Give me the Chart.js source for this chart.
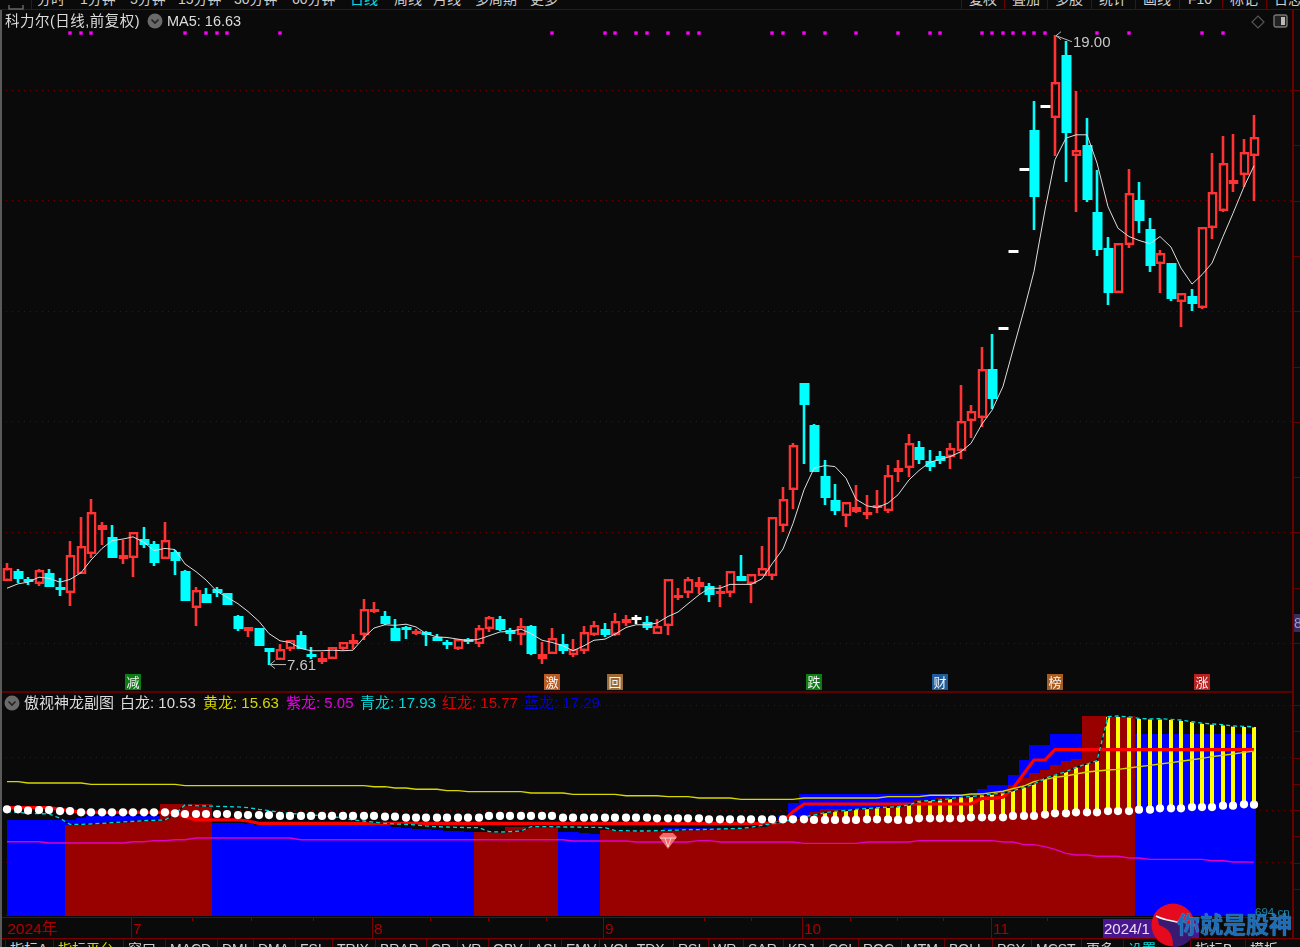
<!DOCTYPE html>
<html>
<head>
<meta charset="utf-8">
<script src="https://cdn.jsdelivr.net/npm/chart.js@4/dist/chart.umd.min.js"></script>
<style>
    html, body { margin: 0; padding: 0; width: 1300px; height: 947px; background: #0a0a0a; overflow: hidden; }
    body { position: relative; font-family: "Liberation Sans", "Noto Sans CJK SC", sans-serif; color: #ddd; }
    canvas { position: absolute; left: 0; }
    .t { position: absolute; white-space: nowrap; font-size: 15px; line-height: 18px; }
    .ln { position: absolute; background: #6a0000; }
</style>
</head>
<body>
<canvas id="mainChart" width="1300" height="681" style="top:10px"></canvas>
<canvas id="subChart" width="1300" height="226" style="top:692px"></canvas>
<div id="chrome"></div>
<script>
// 日线 K 线
const opens = [
    9.13,9.31,9.14,9.07,9.26,9.00,8.90,9.24,9.61,10.04,
    9.92,9.52,9.53,9.88,9.79,9.52,9.65,9.31,8.63,8.89,
    8.97,8.91,8.48,8.21,8.28,7.91,7.70,7.89,8.14,7.80,
    7.66,7.71,7.90,7.99,8.14,8.56,8.48,8.27,8.25,8.17,
    8.16,8.11,7.99,7.90,8.07,7.99,8.25,8.44,8.24,8.14,
    8.30,7.71,7.80,7.99,7.79,7.85,8.14,8.25,8.14,8.36,
    8.42,8.38,8.16,8.30,8.81,8.91,9.02,9.03,8.89,8.90,
    9.22,9.07,9.22,9.22,10.12,10.76,12.71,11.94,11.02,10.58,
    10.29,10.37,10.31,10.44,10.39,11.09,11.16,11.55,11.30,11.38,
    11.36,11.47,12.01,12.07,12.95,13.66,15.05,16.54,17.28,17.67,
    17.50,18.63,16.81,17.00,15.80,15.15,14.33,15.19,16.01,15.48,
    14.86,14.88,14.16,14.27,14.06,15.51,15.82,16.30,16.47,16.80
];
const closes = [
    9.35,9.16,9.10,9.32,9.02,8.96,9.60,9.75,10.37,10.14,
    9.54,9.60,10.00,9.77,9.44,9.87,9.48,8.76,8.95,8.72,
    8.90,8.69,8.25,8.29,7.95,7.84,7.90,8.06,7.90,7.75,
    7.73,7.92,8.01,8.06,8.62,8.58,8.34,8.04,8.24,8.22,
    8.14,8.04,7.96,8.08,8.02,8.27,8.47,8.24,8.17,8.31,
    7.80,7.81,8.09,7.85,7.90,8.20,8.32,8.14,8.40,8.44,
    8.42,8.28,8.31,9.15,8.87,9.15,9.10,8.87,8.93,9.31,
    9.13,9.24,9.35,10.28,10.60,11.58,12.31,11.09,10.62,10.39,
    10.55,10.46,10.37,10.48,11.03,11.17,11.62,11.31,11.18,11.30,
    11.53,12.02,12.20,12.95,12.42,13.66,15.05,16.54,16.07,17.67,
    18.15,17.22,16.91,16.01,15.10,14.33,15.23,16.13,15.64,14.81,
    15.05,14.22,14.33,14.13,15.53,16.16,16.68,16.38,16.88,17.15
];
const highs = [
    9.44,9.33,9.20,9.34,9.34,9.18,9.84,10.27,10.60,10.19,
    10.13,9.86,10.00,10.10,9.85,10.19,9.69,9.32,9.02,9.00,
    9.02,8.91,8.51,8.29,8.28,7.91,7.98,8.06,8.21,7.93,
    7.84,7.92,8.02,8.17,8.79,8.75,8.57,8.43,8.30,8.25,
    8.22,8.17,8.05,8.08,8.09,8.32,8.49,8.49,8.27,8.45,
    8.32,8.01,8.27,8.16,8.07,8.30,8.39,8.37,8.55,8.50,
    8.50,8.48,8.43,9.15,8.99,9.20,9.20,9.09,9.04,9.31,
    9.59,9.24,9.75,10.28,10.83,11.62,12.71,11.96,11.31,10.88,
    10.55,10.85,10.67,10.77,11.21,11.31,11.78,11.65,11.49,11.47,
    11.62,12.66,12.30,13.36,13.59,13.66,15.05,16.54,17.80,17.67,
    19.00,18.88,17.98,17.49,16.56,15.35,15.23,16.58,16.33,15.68,
    15.11,14.88,14.33,14.41,15.53,16.87,17.16,17.21,17.12,17.55
];
const lows = [
    9.13,9.09,9.05,9.03,9.01,8.85,8.67,9.24,9.53,9.77,
    9.53,9.42,9.19,9.72,9.39,9.52,9.23,8.76,8.31,8.72,
    8.83,8.69,8.21,8.10,7.95,7.61,7.70,7.86,7.90,7.71,
    7.62,7.71,7.87,7.89,8.05,8.54,8.32,8.04,8.08,8.15,
    7.95,8.03,7.90,7.88,7.99,7.93,8.19,8.22,8.03,7.97,
    7.78,7.62,7.80,7.81,7.74,7.81,8.13,8.11,8.13,8.31,
    8.34,8.24,8.16,8.15,8.77,8.81,8.89,8.75,8.65,8.83,
    9.12,8.73,9.22,9.14,10.01,10.42,11.23,11.09,10.50,10.32,
    10.09,10.35,10.25,10.35,10.35,10.92,11.00,11.23,11.11,11.23,
    11.14,11.32,11.70,11.90,12.24,13.66,15.05,16.54,15.46,17.67,
    16.80,16.34,15.80,15.98,14.99,14.12,14.33,15.15,15.41,14.71,
    14.33,14.19,13.72,14.01,14.04,15.30,15.80,16.16,16.25,16.00
];
const ma5 = [
    8.99,9.07,9.10,9.19,9.17,9.10,9.15,9.27,9.50,9.71,
    9.85,9.88,9.92,9.82,9.67,9.71,9.69,9.43,9.29,9.14,
    8.93,8.83,8.71,8.57,8.39,8.17,8.04,8.01,7.90,7.86,
    7.86,7.87,7.86,7.87,8.10,8.27,8.33,8.32,8.34,8.29,
    8.17,8.11,8.10,8.07,8.04,8.07,8.13,8.20,8.21,8.25,
    8.17,8.05,8.01,7.95,7.86,7.95,8.05,8.07,8.16,8.28,
    8.33,8.33,8.36,8.48,8.56,8.71,8.87,8.99,8.99,9.06,
    9.06,9.06,9.16,9.43,9.70,10.16,10.77,11.16,11.21,11.19,
    10.98,10.60,10.48,10.45,10.53,10.68,10.95,11.12,11.27,11.32,
    11.37,11.46,11.61,11.96,12.21,12.64,13.30,14.02,14.72,15.83,
    16.74,17.13,17.19,17.19,16.68,15.89,15.50,15.35,15.28,15.22,
    15.35,15.16,14.78,14.49,14.66,14.87,15.35,15.77,16.25,16.63
];
const signalDays = [6,7,8,17,19,20,21,26,52,57,58,60,61,63,65,66,73,74,76,78,81,85,88,89,93,94,95,96,97,98,99,104,107,114,116];
const signalLevel = 19.03;
const priceTicks = [8,9,10,11,12,13,14,15,16,17,18];
const tagDays = [12,52,58,77,89,100,114];
const tagTexts = ['减','激','回','跌','财','榜','涨'];
const tagColors = ['#0b7d12','#b95a22','#9c6a34','#0b7d12','#1f5c9c','#a85c20','#b92020'];

// 傲视神龙副图
const baiLong = [
    10.08,10.08,9.96,10.02,10.02,9.92,9.92,9.80,9.80,9.80,
    9.80,9.80,9.80,9.80,9.80,9.80,9.70,9.64,9.64,9.64,
    9.64,9.64,9.54,9.54,9.54,9.54,9.45,9.45,9.45,9.45,
    9.45,9.45,9.45,9.45,9.45,9.45,9.38,9.38,9.29,9.29,
    9.29,9.29,9.29,9.29,9.29,9.29,9.45,9.45,9.45,9.45,
    9.45,9.45,9.45,9.29,9.29,9.29,9.29,9.29,9.29,9.29,
    9.29,9.29,9.23,9.23,9.23,9.23,9.23,9.13,9.13,9.13,
    9.13,9.13,9.13,9.13,9.13,9.13,9.13,9.07,9.07,9.07,
    9.07,9.07,9.13,9.13,9.13,9.07,9.07,9.23,9.23,9.23,
    9.23,9.23,9.32,9.32,9.32,9.32,9.45,9.45,9.45,9.58,
    9.70,9.70,9.80,9.80,9.80,9.92,9.92,9.92,10.05,10.05,
    10.18,10.18,10.18,10.30,10.30,10.30,10.43,10.43,10.56,10.53
];
const huangLong = [
    12.72,12.72,12.59,12.59,12.59,12.59,12.59,12.59,12.46,12.46,
    12.46,12.46,12.46,12.46,12.46,12.46,12.46,12.34,12.34,12.34,
    12.34,12.34,12.34,12.34,12.34,12.34,12.34,12.34,12.34,12.34,
    12.34,12.34,12.34,12.34,12.34,12.24,12.24,12.11,12.11,11.99,
    11.99,11.99,11.86,11.86,11.77,11.77,11.77,11.77,11.77,11.77,
    11.64,11.64,11.64,11.64,11.51,11.51,11.51,11.51,11.51,11.38,
    11.38,11.38,11.38,11.29,11.29,11.29,11.16,11.16,11.16,11.16,
    11.03,11.03,11.03,11.03,11.03,11.03,11.16,11.16,11.16,11.16,
    11.16,11.16,11.16,11.16,11.29,11.29,11.29,11.29,11.42,11.42,
    11.42,11.42,11.54,11.54,11.67,11.80,12.05,12.30,12.72,12.94,
    13.13,13.26,13.45,13.64,13.73,13.83,13.89,14.02,14.15,14.27,
    14.40,14.53,14.66,14.81,14.94,15.10,15.23,15.35,15.51,15.63
];
const ziLong = [
    7.00,7.00,7.00,7.00,6.88,6.88,6.88,6.88,6.88,6.88,
    6.88,6.88,7.00,7.00,7.10,7.10,7.19,7.19,7.35,7.35,
    7.35,7.35,7.35,7.35,7.35,7.35,7.35,7.35,7.19,7.19,
    7.19,7.19,7.19,7.19,7.19,7.19,7.19,7.19,7.19,7.19,
    7.19,7.19,7.19,7.19,7.19,7.19,7.19,7.19,7.19,7.19,
    7.19,7.19,7.19,7.19,7.07,7.07,7.07,7.07,7.07,7.07,
    6.97,6.97,6.97,6.97,6.97,6.97,7.10,7.10,6.97,6.97,
    6.97,6.97,6.97,6.97,6.97,6.97,6.84,6.84,6.84,6.84,
    6.84,6.84,6.97,6.97,6.97,6.97,6.97,7.10,7.10,7.10,
    7.10,7.10,7.10,7.10,7.10,6.97,6.97,6.72,6.72,6.53,
    6.27,5.89,5.73,5.73,5.61,5.61,5.61,5.45,5.45,5.32,
    5.32,5.32,5.32,5.32,5.32,5.19,5.19,5.07,5.07,5.05
];
const qingLong = [
    9.86,9.80,9.70,9.67,9.64,9.23,8.65,8.65,8.69,8.75,
    8.81,8.88,8.94,9.00,9.04,9.07,9.64,10.50,10.43,10.40,
    10.37,10.34,10.31,10.24,10.08,9.96,9.80,9.70,9.61,9.54,
    9.48,9.38,9.26,9.07,8.97,8.85,8.75,8.69,8.65,8.59,
    8.50,8.43,8.40,8.37,8.34,8.34,7.96,7.92,7.96,8.02,
    8.43,8.43,8.43,8.40,8.40,8.37,8.37,8.34,8.05,8.05,
    8.02,8.02,8.05,8.08,8.11,8.15,8.15,8.18,8.21,8.24,
    8.27,8.37,8.56,8.72,8.91,9.13,9.38,9.54,9.77,9.89,
    9.96,10.08,10.15,10.24,10.27,10.34,10.50,10.85,10.91,10.97,
    11.10,11.23,11.29,11.42,11.54,11.61,11.86,12.18,12.50,13.03,
    13.35,13.67,14.08,14.40,14.72,18.91,18.97,18.88,18.75,18.69,
    18.72,18.65,18.59,18.43,18.30,18.21,18.15,18.02,17.99,17.93
];
const hongLong = [
    10.24,10.24,10.24,10.24,10.24,10.08,9.96,9.80,9.80,9.80,
    9.80,9.80,9.80,9.80,9.80,9.80,9.80,9.38,9.07,9.07,
    9.07,9.07,9.07,8.97,8.75,8.75,8.75,8.75,8.75,8.75,
    8.75,8.75,8.75,8.75,8.75,8.75,8.75,8.75,8.75,8.75,
    8.75,8.75,8.75,8.75,8.75,8.75,8.75,8.75,8.75,8.75,
    8.75,8.75,8.75,8.75,8.75,8.75,8.75,8.75,8.75,8.75,
    8.75,8.75,8.75,8.75,8.75,8.75,8.75,8.75,8.75,8.75,
    8.75,8.75,8.75,8.75,8.91,9.86,10.59,10.59,10.59,10.59,
    10.59,10.59,10.59,10.59,10.59,10.59,10.59,10.59,10.59,10.59,
    10.59,10.59,10.59,11.13,11.13,11.23,12.08,13.51,14.78,14.78,
    15.77,15.77,15.77,15.77,15.77,15.77,15.77,15.77,15.77,15.77,
    15.77,15.77,15.77,15.77,15.77,15.77,15.77,15.77,15.77,15.77
];
const lanLong = [
    9.07,9.07,9.07,9.07,9.07,9.07,9.07,9.23,9.48,9.48,
    9.48,9.48,9.48,9.48,9.48,9.48,9.48,9.48,9.48,9.48,
    8.81,8.81,8.75,8.65,8.59,8.59,8.59,8.59,8.59,8.59,
    8.59,8.59,8.59,8.59,8.59,8.59,8.59,8.43,8.27,8.24,
    8.18,8.11,8.05,7.99,7.96,7.96,7.96,7.96,7.96,7.96,
    7.96,7.96,7.96,7.96,7.96,7.80,7.73,8.11,8.11,8.11,
    8.11,8.11,8.11,8.27,8.27,8.27,8.27,8.27,8.27,8.27,
    8.27,8.27,8.27,8.91,9.54,10.65,11.51,11.51,11.51,11.51,
    11.51,11.51,11.51,11.51,11.51,11.51,11.51,11.51,11.51,11.51,
    11.51,11.51,11.51,12.02,12.40,12.40,13.35,14.78,16.21,16.21,
    17.29,17.29,17.29,17.29,17.29,17.29,17.29,17.29,17.29,17.29,
    17.29,17.29,17.29,17.29,17.29,17.29,17.29,17.29,17.29,17.29
];
const darkRedTops = [
    null,null,null,null,null,null,8.59,8.65,8.65,8.75,
    8.85,8.91,8.97,9.00,9.04,10.59,10.59,10.59,10.59,10.59,
    null,null,null,null,null,null,null,null,null,null,
    null,null,null,null,null,null,null,null,null,null,
    null,null,null,null,null,7.96,7.96,7.96,8.43,8.43,
    8.43,8.43,8.43,null,null,null,null,8.11,8.11,8.11,
    8.11,8.11,8.08,8.11,8.15,8.18,8.18,8.18,8.21,8.24,
    8.27,8.30,8.43,8.75,9.07,9.38,9.54,9.86,10.08,10.08,
    10.08,10.08,10.08,10.34,10.40,10.40,10.65,10.97,10.97,11.13,
    11.23,11.29,11.45,11.61,11.67,11.77,12.40,13.03,13.51,13.83,
    14.30,14.72,14.85,18.97,18.97,18.97,18.97,18.97,null,null,
    null,null,null,null,null,null,null,null,null,null
];
const stickFirstDay = 78;
const gemDay = 63;
const gemLevel = 7.16;
const subTicks = [2.5,5,7.5,10,12.5,15,17.5,20];

// 时间轴
const monthMarks = [11.8,34.8,56.8,75.8,93.9];
const monthLabels = ['7','8','9','10','11'];
const minorMarks = [17.6,23.3,29.2,40.3,45.9,51.4,66.5,71,80.4,84.9,89.3,99.2];

const RED = '#ff3333';
const CYAN = '#00ffff';
const BG = '#0a0a0a';
const FRAME = '#6a0000';
const days = closes.map((_, i) => i);
const candleColor = (i) => closes[i] > opens[i] ? RED : (closes[i] < opens[i] ? CYAN : '#ffffff');

// x 轴两张图共用，bar 图默认 offset 要关掉
const xAxis = { type: 'linear', display: false, offset: false, min: -0.6966, max: 122.586 };
const yAxis = (min, max, stepSize) => ({
    type: 'linear', position: 'right', min, max,
    afterFit: (s) => { s.width = 0; },
    ticks: { display: false, stepSize, includeBounds: false },
    grid: { color: '#6a0000', lineWidth: 1, drawTicks: false },
    border: { display: false, dash: [1, 5] }
});

// 像素对齐，和原图的硬边一致
const snapPlugin = {
    id: 'snap',
    beforeDatasetsUpdate(chart) {
        const xs = chart.scales.x;
        if (!xs.snapped) {
            const orig = xs.getPixelForValue.bind(xs);
            xs.getPixelForValue = (v, i) => Math.round(orig(v, i));
            xs.snapped = true;
        }
    },
    afterDatasetUpdate(chart, args) {
        if (args.meta.type !== 'bar') return;
        args.meta.data.forEach((el) => {
            el.y = Math.round(el.y);
            el.base = Math.round(el.base);
            if (args.meta.label === 'body' || args.meta.label === 'column') el.x += 0.5;
        });
    }
};

const drawTicks = (chart, levels) => {
    const { ctx, scales: { y } } = chart;
    ctx.save();
    ctx.fillStyle = FRAME;
    levels.forEach((v) => ctx.fillRect(1293, Math.round(y.getPixelForValue(v)), 7, 1));
    ctx.restore();
};

const mainPlugin = {
    id: 'mainDecor',
    afterDatasetsDraw(chart) {
        const { ctx, scales: { x, y } } = chart;
        drawTicks(chart, priceTicks);
        // 最高最低价标注
        ctx.save();
        ctx.strokeStyle = '#bbbbbb';
        ctx.fillStyle = '#c8c8c8';
        ctx.lineWidth = 1;
        ctx.font = '15px "Liberation Sans"';
        ctx.textBaseline = 'middle';
        const hiDay = highs.indexOf(Math.max(...highs));
        const loDay = lows.indexOf(Math.min(...lows));
        const marks = [
            { px: x.getPixelForValue(hiDay) + 1, py: y.getPixelForValue(highs[hiDay]) + 1, dy: 6, text: highs[hiDay].toFixed(2) },
            { px: x.getPixelForValue(loDay) + 1, py: y.getPixelForValue(lows[loDay]), dy: 0, text: lows[loDay].toFixed(2) }
        ];
        marks.forEach((m) => {
            ctx.beginPath();
            ctx.moveTo(m.px + 16, m.py + m.dy);
            ctx.lineTo(m.px, m.py);
            ctx.moveTo(m.px + 5, m.py - 4);
            ctx.lineTo(m.px, m.py);
            ctx.lineTo(m.px + 5, m.py + 4);
            ctx.stroke();
            ctx.fillText(m.text, m.px + 17, m.py + m.dy + 1);
        });
        // 底部信号小标
        ctx.font = '13px "Noto Sans CJK SC"';
        ctx.textAlign = 'center';
        tagDays.forEach((day, i) => {
            const cx = x.getPixelForValue(day);
            ctx.fillStyle = tagColors[i];
            ctx.fillRect(cx - 8, 664, 16, 16);
            ctx.fillStyle = '#f4f4f4';
            ctx.fillText(tagTexts[i], cx, 672);
        });
        ctx.restore();
    }
};

const subPlugin = {
    id: 'subDecor',
    afterDatasetsDraw(chart) {
        const { ctx, scales: { x, y } } = chart;
        drawTicks(chart, subTicks);
        // 红宝石图标
        const cx = x.getPixelForValue(gemDay);
        const cy = y.getPixelForValue(gemLevel);
        ctx.save();
        ctx.fillStyle = '#f06a6a';
        ctx.beginPath();
        ctx.moveTo(cx - 9, cy - 3);
        ctx.lineTo(cx - 5, cy - 7);
        ctx.lineTo(cx + 5, cy - 7);
        ctx.lineTo(cx + 9, cy - 3);
        ctx.lineTo(cx, cy + 9);
        ctx.closePath();
        ctx.fill();
        ctx.strokeStyle = '#ffd0d0';
        ctx.beginPath();
        ctx.moveTo(cx - 8, cy - 2);
        ctx.lineTo(cx + 8, cy - 2);
        ctx.moveTo(cx - 3, cy - 2);
        ctx.lineTo(cx, cy + 7);
        ctx.lineTo(cx + 3, cy - 2);
        ctx.stroke();
        ctx.restore();
    }
};

const baseOptions = (y) => ({
    responsive: false,
    animation: false,
    events: [],
    devicePixelRatio: 1,
    layout: { autoPadding: false, padding: { left: 0, top: 0, bottom: 0, right: 8 } },
    plugins: { legend: { display: false }, tooltip: { enabled: false } },
    scales: { x: xAxis, y }
});

new Chart(document.getElementById('mainChart'), {
    type: 'bar',
    plugins: [snapPlugin, mainPlugin],
    data: {
        datasets: [
            { type: 'line', label: 'MA5', order: 1, data: days.map((i) => ({ x: i, y: ma5[i] })), borderColor: '#dddddd', borderWidth: 1, pointRadius: 0, tension: 0 },
            { type: 'line', label: 'signal', order: 2, data: signalDays.map((i) => ({ x: i, y: signalLevel })), showLine: false, pointStyle: 'rect', pointRadius: 2.4, pointBorderWidth: 0, pointBackgroundColor: '#ff00ff' },
            { label: 'body', order: 3, grouped: false, barThickness: 10, minBarLength: 3, clip: false, borderSkipped: false, borderWidth: days.map((i) => closes[i] > opens[i] ? 2.6 : 0), inflateAmount: 0,
              data: days.map((i) => ({ x: i, y: [Math.min(opens[i], closes[i]), Math.max(opens[i], closes[i])] })),
              borderColor: days.map(candleColor),
              backgroundColor: days.map((i) => closes[i] > opens[i] ? BG : candleColor(i)) },
            { label: 'wick', order: 4, grouped: false, barThickness: 2.6, clip: false, borderWidth: 0, inflateAmount: 0,
              data: days.map((i) => ({ x: i, y: [lows[i], highs[i]] })),
              backgroundColor: days.map(candleColor) }
        ]
    },
    options: baseOptions(yAxis(7.132, 19.447, 2))
});

const clipBars = { left: -7, right: -36, top: 0, bottom: 0 };
const columnFloor = -0.12;

new Chart(document.getElementById('subChart'), {
    type: 'bar',
    plugins: [snapPlugin, subPlugin],
    data: {
        datasets: [
            { type: 'line', label: '白龙', order: 1, data: days.map((i) => ({ x: i, y: baiLong[i] })), showLine: false, pointRadius: 4.1, pointBorderWidth: 0, pointBackgroundColor: '#ffffff' },
            { type: 'line', label: '青龙', order: 2, data: days.map((i) => ({ x: i, y: qingLong[i] })), borderColor: '#00dcdc', borderWidth: 1.3, borderDash: [4, 3], pointRadius: 0, tension: 0 },
            { type: 'line', label: '青龙底', order: 3, data: days.map((i) => ({ x: i, y: qingLong[i] })), borderColor: '#0a0a0a', borderWidth: 1.3, pointRadius: 0, tension: 0 },
            { type: 'line', label: '黄龙', order: 4, data: days.map((i) => ({ x: i, y: huangLong[i] })), borderColor: '#d6d600', borderWidth: 1.4, pointRadius: 0, tension: 0 },
            { type: 'line', label: '红龙', order: 5, data: days.map((i) => ({ x: i, y: hongLong[i] })), borderColor: '#ff0000', borderWidth: 3.2, pointRadius: 0, tension: 0 },
            { type: 'line', label: '紫龙', order: 6, data: days.map((i) => ({ x: i, y: ziLong[i] })), borderColor: '#e000c8', borderWidth: 1.4, pointRadius: 0, tension: 0 },
            { label: 'stick', order: 7, grouped: false, barThickness: 4, borderWidth: 0, inflateAmount: 0,
              data: days.filter((i) => i >= stickFirstDay).map((i) => ({ x: i, y: [baiLong[i], qingLong[i]] })),
              backgroundColor: '#ffff00' },
            { label: 'column', order: 8, grouped: false, barThickness: 11, borderWidth: 0, inflateAmount: 0, clip: clipBars,
              data: days.filter((i) => darkRedTops[i] !== null).map((i) => ({ x: i, y: [columnFloor, darkRedTops[i]] })),
              backgroundColor: '#990000' },
            { label: 'column', order: 9, grouped: false, barThickness: 11, borderWidth: 0, inflateAmount: 0, clip: clipBars,
              data: days.map((i) => ({ x: i, y: [columnFloor, lanLong[i]] })),
              backgroundColor: '#0000ff' }
        ]
    },
    options: baseOptions(yAxis(-0.267, 21.257, 5))
});

// 周边界面：标题、图例、菜单、时间轴文字
const chrome = document.getElementById('chrome');
const addText = (text, left, top, color, size) => {
    const el = document.createElement('div');
    el.className = 't';
    el.textContent = text;
    el.style.left = left + 'px';
    el.style.top = top + 'px';
    if (color) el.style.color = color;
    if (size) el.style.fontSize = size + 'px';
    chrome.appendChild(el);
    return el;
};
const addLine = (left, top, width, height, color) => {
    const el = document.createElement('div');
    el.className = 'ln';
    el.style.cssText = `left:${left}px;top:${top}px;width:${width}px;height:${height}px;` + (color ? `background:${color};` : '');
    chrome.appendChild(el);
};
const addSvg = (markup, left, top, width, height) => {
    const el = document.createElement('div');
    el.style.cssText = `position:absolute;left:${left}px;top:${top}px;width:${width}px;height:${height}px;`;
    el.innerHTML = `<svg xmlns="http://www.w3.org/2000/svg" width="${width}" height="${height}">${markup}</svg>`;
    chrome.appendChild(el);
};

addLine(0, 9, 1300, 1);
addLine(1292, 9, 2, 929);
addLine(0, 691, 1293, 2, '#5c0000');
addLine(0, 917, 1293, 1, '#7a0000');
addLine(0, 938, 1300, 1, '#7a0000');
addLine(0, 10, 2, 937, '#5a5a5a');
addLine(31, 0, 1, 9);

const topLeftMenu = [['分时',37],['1分钟',80],['5分钟',130],['15分钟',178],['30分钟',234],['60分钟',292],['日线',350,'#00e0e0'],['周线',394],['月线',433],['多周期',475],['更多',530]];
topLeftMenu.forEach(([text, left, color]) => addText(text, left, -10, color || '#cfcfcf', 14));
const topRightMenu = [['复权',969],['叠加',1012],['多股',1055],['统计',1099],['画线',1143],['F10',1188],['标记',1230],['日志',1274]];
topRightMenu.forEach(([text, left]) => addText(text, left, -10, '#cfcfcf', 14));
[961,1004,1047,1091,1135,1179,1222,1266].forEach((x) => addLine(x, 0, 1, 9));
addSvg('<rect x="1" y="-6" width="14" height="10" fill="none" stroke="#666" stroke-width="1.5"/>', 8, 0, 16, 9);

addText('科力尔(日线,前复权)', 5, 12, '#dcdcdc', 14.5).style.letterSpacing = '0.5px';
const chevron = '<circle cx="8" cy="8" r="7.5" fill="#6a6a6a"/><path d="M4.5 6.5 L8 10 L11.5 6.5" fill="none" stroke="#222" stroke-width="1.6"/>';
addSvg(chevron, 147, 13, 16, 16);
addText('MA5: 16.63', 167, 12, '#dcdcdc', 14.5);
addSvg('<path d="M7 1 L13 7 L7 13 L1 7 Z" fill="none" stroke="#555" stroke-width="1.2"/>', 1251, 15, 14, 14);
addSvg('<rect x="1" y="1" width="13" height="12" rx="2" fill="#222" stroke="#777" stroke-width="1.4"/><rect x="8" y="3" width="4" height="8" fill="#bbb"/>', 1273, 14, 15, 14);

addText('8', 1294, 614, '#9a9ad0', 14).style.cssText += 'background:#3a2a60;width:6px;overflow:hidden;';

addSvg(chevron, 4, 695, 16, 16);
addText('傲视神龙副图', 24, 694, '#dcdcdc', 15);
const legendItems = [
    ['白龙', baiLong, 120, '#dcdcdc'],
    ['黄龙', huangLong, 203, '#d6d600'],
    ['紫龙', ziLong, 286, '#e000e0'],
    ['青龙', qingLong, 360, '#00d8d8'],
    ['红龙', hongLong, 442, '#e00000'],
    ['蓝龙', lanLong, 524, '#0000e0']
];
legendItems.forEach(([name, values, left, color]) => {
    addText(`${name}: ${values[values.length - 1].toFixed(2)}`, left, 694, color, 15);
});

// 时间轴：位置取自和 K 线相同的刻度
const scalePixel = (day) => Math.round(7.3 + 10.48 * day);
addText('2024年', 7, 920, '#a80000', 15.5);
monthMarks.forEach((day, i) => {
    addLine(scalePixel(day), 918, 1, 20, '#7a0000');
    addText(monthLabels[i], scalePixel(day) + 2, 920, '#a80000', 15.5);
});
minorMarks.forEach((day) => addLine(scalePixel(day), 918, 1, 3, '#7a0000'));

const bottomTabs = [['指标A',10],['指标平台',58,'#d8d800'],['窗口',128],['MACD',170],['DMI',222],['DMA',258],['FSL',300],['TRIX',337],['BRAR',380],['CR',431],['VR',462],['OBV',493],['ASI',534],['EMV',566],['VOL-TDX',604],['RSI',678],['WR',713],['SAR',748],['KDJ',788],['CCI',828],['ROC',863],['MTM',906],['BOLL',949],['PSY',997],['MCST',1036],['更多',1086],['设置',1128,'#00d8d8'],['指标B',1195],['模板',1250]];
bottomTabs.forEach(([text, left, color]) => {
    addText(text, left, 940, color || '#cfcfcf', 14);
    addLine(left - 5, 938, 1, 9);
});

// 右下角日期和水印
const dateBox = document.createElement('div');
dateBox.style.cssText = 'position:absolute;left:1103px;top:919px;width:96px;height:19px;background:#4a1690;';
chrome.appendChild(dateBox);
addText('2024/1', 1104, 920, '#e8e0f0', 15);
addText('8', 1169, 920, '#e8e0f0', 15);
addSvg('<circle cx="22" cy="22" r="21.5" fill="#e60a1e"/><path d="M6 12 C16 20 30 16 44 24 C44 36 34 44 22 44 C22 34 20 26 8 22 Z" fill="#3a1a70"/><path d="M5 13 C14 18 22 17 30 20" fill="none" stroke="#f4f4f4" stroke-width="1.5"/>', 1151, 903, 44, 44);
const brand = addText('你就是股神', 1177, 916, '#1c6cb8', 23);
brand.style.fontWeight = '700';
brand.style.textShadow = '0 0 1px #7fc4ff';
addText('694.cn', 1255, 903, '#1f86a8', 11.5);
</script>
</body>
</html>
